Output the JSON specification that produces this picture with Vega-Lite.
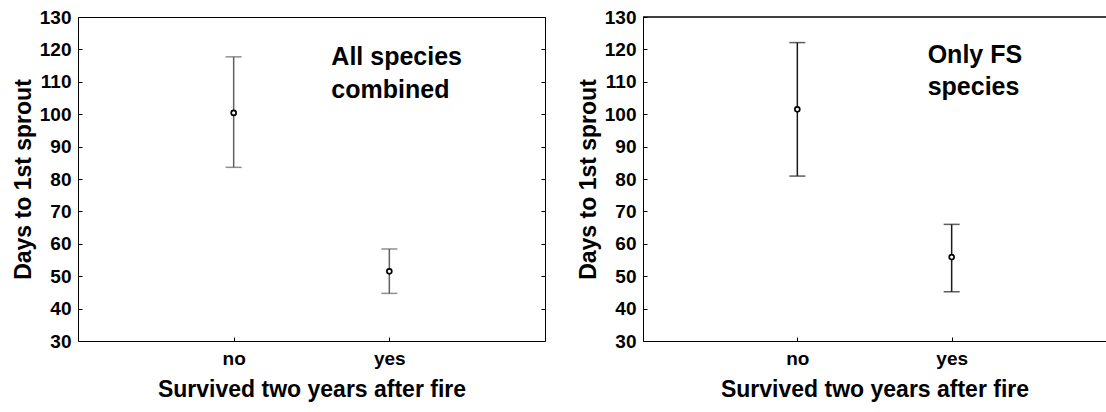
{
  "$schema": "https://vega.github.io/schema/vega-lite/v6.json",
  "background": "white",
  "padding": {"left": 11, "top": 7, "right": 0, "bottom": 0},
  "config": {
    "font": "Liberation Sans",
    "view": {"stroke": "black", "strokeWidth": 1},
    "axis": {
      "labelFont": "Liberation Sans",
      "titleFont": "Liberation Sans",
      "labelFontWeight": "bold",
      "titleFontWeight": "bold",
      "labelColor": "black",
      "titleColor": "black",
      "labelFontSize": 19,
      "titleFontSize": 23,
      "grid": false,
      "domainColor": "black",
      "tickColor": "black"
    }
  },
  "datasets": {
    "all": [
      {"survived": "no", "mean": 100.4, "lo": 83.6, "hi": 117.7},
      {"survived": "yes", "mean": 51.5, "lo": 44.7, "hi": 58.4}
    ],
    "fs": [
      {"survived": "no", "mean": 101.5, "lo": 80.9, "hi": 122.1},
      {"survived": "yes", "mean": 55.9, "lo": 45.2, "hi": 66.0}
    ],
    "noteAll": [{"survived": "yes", "y": 115.2, "label": "All species\ncombined"}],
    "noteFs": [{"survived": "yes", "y": 115.8, "label": "Only FS\nspecies"}]
  },
  "hconcat": [
    {
      "width": 467,
      "height": 324,
      "data": {"name": "all"},
      "encoding": {
        "x": {
          "field": "survived", "type": "ordinal",
          "scale": {"type": "point", "domain": ["no", "yes"], "padding": 1},
          "axis": {"title": "Survived two years after fire", "labelAngle": 0, "tickSize": -4, "labelPadding": 12, "titlePadding": 10, "domain": false}
        }
      },
      "layer": [
        {
          "mark": {"type": "rule", "color": "#606060", "strokeWidth": 1.5},
          "encoding": {
            "y": {
              "field": "lo", "type": "quantitative",
              "scale": {"domain": [30, 130], "nice": false, "zero": false},
              "axis": {"title": "Days to 1st sprout", "values": [30, 40, 50, 60, 70, 80, 90, 100, 110, 120, 130], "tickSize": -4, "labelPadding": 11, "titlePadding": 4, "domain": false}
            },
            "y2": {"field": "hi"}
          }
        },
        {
          "mark": {"type": "tick", "color": "#606060", "thickness": 1.5, "size": 16},
          "encoding": {"y": {"field": "lo", "type": "quantitative", "axis": null}}
        },
        {
          "mark": {"type": "tick", "color": "#606060", "thickness": 1.5, "size": 16},
          "encoding": {"y": {"field": "hi", "type": "quantitative", "axis": null}}
        },
        {
          "mark": {"type": "point", "shape": "circle", "filled": true, "fill": "white", "stroke": "black", "strokeWidth": 1.7, "size": 24, "opacity": 1},
          "encoding": {"y": {"field": "mean", "type": "quantitative", "axis": null}}
        },
        {
          "data": {"name": "noteAll"},
          "mark": {"type": "text", "fontSize": 25, "fontWeight": "bold", "font": "Liberation Sans", "lineBreak": "\n", "lineHeight": 33, "align": "left", "baseline": "alphabetic", "dx": -58, "color": "black"},
          "encoding": {
            "y": {"field": "y", "type": "quantitative", "axis": null},
            "text": {"field": "label"}
          }
        },
        {
          "mark": {"type": "rule", "opacity": 0},
          "encoding": {
            "y": {
              "field": "mean", "type": "quantitative",
              "axis": {"orient": "right", "title": null, "labels": false, "values": [30, 40, 50, 60, 70, 80, 90, 100, 110, 120, 130], "tickSize": -4, "domain": false}
            }
          }
        }
      ],
      "resolve": {"scale": {"y": "shared"}, "axis": {"y": "independent"}}
    },
    {
      "width": 463,
      "height": 324,
      "view": {"stroke": null},
      "data": {"name": "fs"},
      "layer": [
        {
          "mark": {"type": "rule", "color": "#1a1a1a", "strokeWidth": 1.5},
          "encoding": {
            "x": {
              "field": "survived", "type": "ordinal",
              "scale": {"type": "point", "domain": ["no", "yes"], "padding": 1},
              "axis": {"title": "Survived two years after fire", "labelAngle": 0, "tickSize": -4, "labelPadding": 12, "titlePadding": 10, "domain": true}
            },
            "y": {
              "field": "lo", "type": "quantitative",
              "scale": {"domain": [30, 130], "nice": false, "zero": false},
              "axis": {"title": "Days to 1st sprout", "values": [30, 40, 50, 60, 70, 80, 90, 100, 110, 120, 130], "tickSize": -4, "labelPadding": 11, "titlePadding": 4, "domain": true}
            },
            "y2": {"field": "hi"}
          }
        },
        {
          "mark": {"type": "tick", "color": "#1a1a1a", "thickness": 1.5, "size": 16},
          "encoding": {
            "x": {"field": "survived", "type": "ordinal", "axis": null},
            "y": {"field": "lo", "type": "quantitative", "axis": null}
          }
        },
        {
          "mark": {"type": "tick", "color": "#1a1a1a", "thickness": 1.5, "size": 16},
          "encoding": {
            "x": {"field": "survived", "type": "ordinal", "axis": null},
            "y": {"field": "hi", "type": "quantitative", "axis": null}
          }
        },
        {
          "mark": {"type": "point", "shape": "circle", "filled": true, "fill": "white", "stroke": "black", "strokeWidth": 1.7, "size": 24, "opacity": 1},
          "encoding": {
            "x": {"field": "survived", "type": "ordinal", "axis": null},
            "y": {"field": "mean", "type": "quantitative", "axis": null}
          }
        },
        {
          "data": {"name": "noteFs"},
          "mark": {"type": "text", "fontSize": 25, "fontWeight": "bold", "font": "Liberation Sans", "lineBreak": "\n", "lineHeight": 32, "align": "left", "baseline": "alphabetic", "dx": -24, "color": "black"},
          "encoding": {
            "x": {"field": "survived", "type": "ordinal", "axis": null},
            "y": {"field": "y", "type": "quantitative", "axis": null},
            "text": {"field": "label"}
          }
        },
        {
          "mark": {"type": "rule", "color": "black", "strokeWidth": 1},
          "encoding": {
            "y": {"datum": 130, "type": "quantitative", "axis": null}
          }
        }
      ],
      "resolve": {"scale": {"x": "shared", "y": "shared"}, "axis": {"x": "independent", "y": "independent"}}
    }
  ],
  "spacing": 31
}
